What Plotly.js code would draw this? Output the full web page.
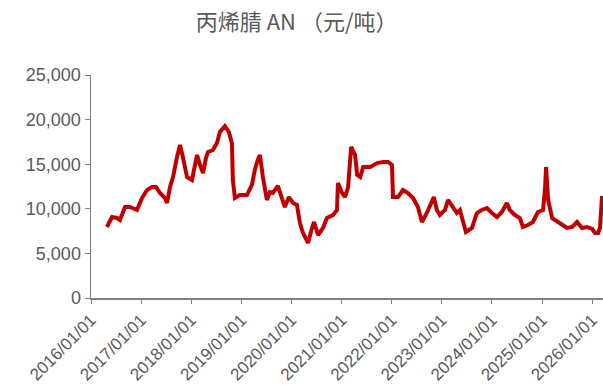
<!DOCTYPE html>
<html>
<head>
<meta charset="utf-8">
<script src="https://cdn.plot.ly/plotly-3.0.1.min.js"></script>
<style>html,body{margin:0;padding:0;background:#fff;}#chart{width:603px;height:385px;}</style>
</head>
<body>
<div id="chart"></div>
<script>
const dates = [
"2016-04-26","2016-06-02","2016-07-08","2016-07-30","2016-09-05","2016-10-11","2016-12-01",
"2017-01-07","2017-02-13","2017-03-21","2017-04-19","2017-05-18","2017-06-24","2017-07-08","2017-07-30","2017-08-21","2017-09-19","2017-10-11","2017-11-02","2017-12-01",
"2018-01-06","2018-01-28","2018-02-12","2018-03-06","2018-03-28","2018-04-18","2018-05-03","2018-06-08","2018-07-07","2018-07-29","2018-09-03","2018-10-02","2018-10-24","2018-10-31","2018-11-15","2018-12-21",
"2019-02-11","2019-03-19","2019-04-09","2019-05-01","2019-05-16","2019-06-07","2019-07-06","2019-07-28","2019-08-19","2019-09-24","2019-10-23","2019-11-14","2019-12-13",
"2020-01-12","2020-02-10","2020-03-03","2020-03-25","2020-05-01","2020-05-30","2020-06-14","2020-07-13","2020-08-18","2020-09-16","2020-10-30","2020-11-28","2020-12-05",
"2021-01-04","2021-01-26","2021-02-17","2021-03-11","2021-04-09","2021-04-24","2021-05-16","2021-06-07","2021-07-28","2021-09-17","2021-10-30","2021-12-05",
"2022-01-03","2022-01-10","2022-02-16","2022-03-24","2022-04-29","2022-06-05","2022-07-11","2022-08-09","2022-09-14","2022-10-21","2022-11-04","2022-11-26","2022-12-18",
"2023-01-24","2023-02-15","2023-03-23","2023-04-21","2023-05-13","2023-06-04","2023-06-26","2023-08-09","2023-09-14","2023-10-20","2023-11-26",
"2024-01-01","2024-02-07","2024-03-14","2024-04-19","2024-05-11","2024-06-17","2024-07-23","2024-08-14","2024-09-20","2024-10-26","2024-12-02",
"2025-01-08","2025-01-23","2025-01-30","2025-02-14","2025-03-15","2025-04-05","2025-05-12","2025-07-02","2025-08-08","2025-09-13","2025-10-19","2025-11-25",
"2026-01-01","2026-01-22","2026-02-13","2026-02-27","2026-03-14"
];
const prices = [
7960,9080,8970,8740,10200,10200,9865,
11210,12110,12440,12440,11770,11210,10650,12440,13560,15810,17150,15690,13560,
13230,14690,16030,14910,14010,15690,16370,16590,17380,18610,19280,18610,17380,13230,11210,11550,
11550,12670,14350,15500,16030,13560,10990,11880,11770,12560,11210,10200,11320,
10650,10430,8410,7290,6170,7850,8520,7060,7850,8970,9300,9865,12890,
11770,11320,12440,16930,16030,13790,13560,14690,14690,15130,15250,15250,
14910,11320,11320,12110,11770,11210,10200,8520,9530,10760,11320,9865,9300,
9865,10990,10200,9530,9865,8410,7400,7850,9530,9865,10090,
9530,9080,9640,10650,9865,9300,8970,7960,8180,8520,9640,
9865,12330,14690,10990,8970,8740,8410,7850,7960,8520,7850,7960,
7740,7290,7290,7850,11430
];
const seriesName = "丙烯腈 AN";
const titleText = "丙烯腈 AN （元/吨）";

const txtColor = "#595959";
const axColor = "#7f7f7f";
const yTickFont = {family: "Liberation Sans, Arial, sans-serif", size: 18, color: txtColor};
const xTickFont = {family: "Liberation Sans, Arial, sans-serif", size: 17, color: txtColor};

Plotly.newPlot("chart", [{
  x: dates, y: prices, type: "scatter", mode: "lines", name: seriesName,
  line: {color: "#C00000", width: 4, shape: "linear"},
  hoverinfo: "skip"
}], {
  width: 603, height: 385,
  margin: {l: 91, r: 0, t: 75, b: 87, pad: 0},
  paper_bgcolor: "#fff", plot_bgcolor: "#fff",
  showlegend: false,
  title: {text: titleText, x: 0.492, xref: "container", xanchor: "center", y: 0.943, yref: "container", yanchor: "middle",
          font: {family: "Noto Sans CJK SC, sans-serif", size: 22, color: txtColor}},
  xaxis: {
    type: "date", range: ["2016-01-01", "2026-03-21"],
    tick0: "2016-01-01", dtick: "M12", tickformat: "%Y/%m/%d", tickangle: -45,
    showgrid: false, zeroline: false, showline: true, linecolor: axColor, linewidth: 1.5,
    ticks: "outside", ticklen: 4, tickcolor: axColor, tickfont: xTickFont
  },
  yaxis: {
    range: [0, 25000], tick0: 0, dtick: 5000, tickformat: ",d",
    showgrid: false, zeroline: false, showline: true, linecolor: axColor, linewidth: 1.5,
    ticks: "outside", ticklen: 5, tickcolor: axColor, tickfont: yTickFont
  }
}, {staticPlot: true});
</script>
</body>
</html>
